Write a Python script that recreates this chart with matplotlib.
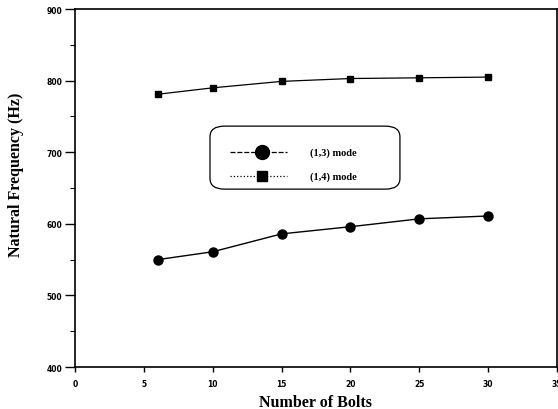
import numpy as np
import matplotlib.pyplot as plt
from matplotlib.patches import FancyBboxPatch
from matplotlib.ticker import MultipleLocator

# number of bolts vs natural frequency
bolts = [6, 10, 15, 20, 25, 30]
mode13 = [550, 561, 586, 596, 607, 611]
mode14 = [781, 790, 799, 803, 804, 805]
labels = ['(1,3) mode', '(1,4) mode']

fig = plt.figure(figsize=(5.58, 4.10), dpi=100)
ax = fig.add_axes([0.1344, 0.1024, 0.864, 0.873])

ax.plot(bolts, mode13, 'k-', linewidth=1, marker='o', markersize=6.5)
ax.plot(bolts, mode14, 'k-', linewidth=0.9, marker='s', markersize=5)

ax.set_xlim(0, 35)
ax.set_ylim(400, 900)
ax.xaxis.set_major_locator(MultipleLocator(5))
ax.yaxis.set_major_locator(MultipleLocator(100))
ax.yaxis.set_minor_locator(MultipleLocator(50))
ax.tick_params(axis='x', which='major', direction='out', length=3.5, width=1,
               labelsize=5.5, pad=5)
ax.tick_params(axis='y', which='major', direction='out', length=7, width=1,
               labelsize=5.5, pad=2)
ax.tick_params(axis='y', which='minor', direction='out', length=3.5, width=0.8)
for lab in ax.get_xticklabels() + ax.get_yticklabels():
    lab.set_fontweight('bold')
for s in ax.spines.values():
    s.set_linewidth(1.2)

ax.set_xlabel('Number of Bolts', family='Liberation Serif', fontweight='bold', fontsize=11.5)
ax.xaxis.set_label_coords(0.498, -0.074)
ax.set_ylabel('Natural Frequency (Hz)', family='Liberation Serif', fontweight='bold', fontsize=11.5)
ax.yaxis.set_label_coords(-0.106, 0.539)

# legend drawn by hand to match the rounded box
box = FancyBboxPatch((0.280, 0.497), 0.394, 0.176, transform=ax.transAxes,
                     boxstyle='round,pad=0,rounding_size=0.03', facecolor='white',
                     edgecolor='k', linewidth=0.9, zorder=3)
ax.add_patch(box)
rows = [0.601, 0.534]
ax.plot([0.322, 0.440], [rows[0]] * 2, transform=ax.transAxes, color='k',
        linestyle='--', dashes=(4, 1.5), linewidth=0.9, zorder=4)
ax.plot([0.388], [rows[0]], transform=ax.transAxes, color='k', marker='o',
        markersize=10, linestyle='none', zorder=5)
ax.plot([0.322, 0.440], [rows[1]] * 2, transform=ax.transAxes, color='k',
        linestyle=':', linewidth=0.9, zorder=4)
ax.plot([0.388], [rows[1]], transform=ax.transAxes, color='k', marker='s',
        markersize=6.5, linestyle='none', zorder=5)
for r, t in zip(rows, labels):
    ax.text(0.488, r, t, transform=ax.transAxes, va='center', ha='left',
            family='Liberation Serif', fontweight='bold', fontsize=7.5, zorder=5)

fig.savefig('out.png', dpi=100)
